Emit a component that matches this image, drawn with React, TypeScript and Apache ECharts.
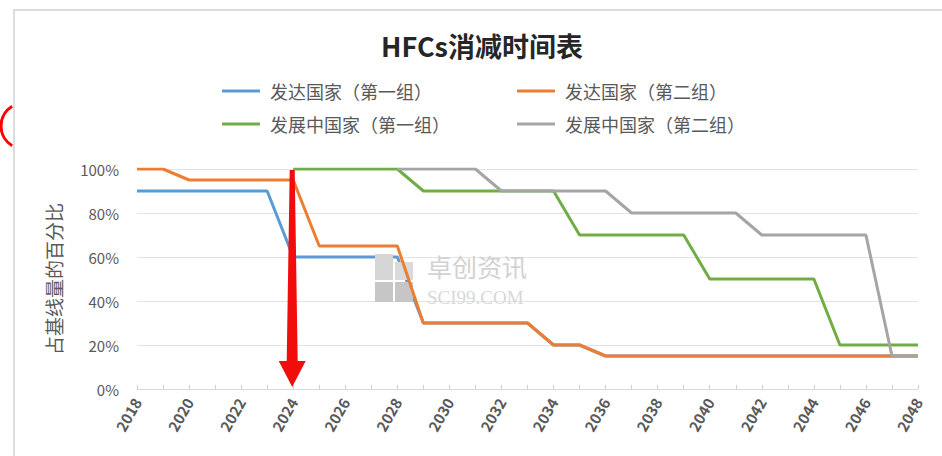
import React, { useEffect, useRef } from "react";
import * as echarts from "echarts";

const categories = [
  "2018", "2019", "2020", "2021", "2022", "2023", "2024", "2025", "2026", "2027",
  "2028", "2029", "2030", "2031", "2032", "2033", "2034", "2035", "2036", "2037",
  "2038", "2039", "2040", "2041", "2042", "2043", "2044", "2045", "2046", "2047", "2048",
];

const seriesNames = [
  "发达国家（第一组）",
  "发达国家（第二组）",
  "发展中国家（第一组）",
  "发展中国家（第二组）",
];

const developedGroup1 = [
  90, 90, 90, 90, 90, 90, 60, 60, 60, 60,
  60, 30, 30, 30, 30, 30, 20, 20, 15, 15,
  15, 15, 15, 15, 15, 15, 15, 15, 15, 15, 15,
];

const developedGroup2 = [
  100, 100, 95, 95, 95, 95, 95, 65, 65, 65,
  65, 30, 30, 30, 30, 30, 20, 20, 15, 15,
  15, 15, 15, 15, 15, 15, 15, 15, 15, 15, 15,
];

const developingGroup1 = [
  null, null, null, null, null, null, 100, 100, 100, 100,
  100, 90, 90, 90, 90, 90, 90, 70, 70, 70,
  70, 70, 50, 50, 50, 50, 50, 20, 20, 20, 20,
];

const developingGroup2 = [
  null, null, null, null, null, null, null, null, null, null,
  100, 100, 100, 100, 90, 90, 90, 90, 90, 80,
  80, 80, 80, 80, 70, 70, 70, 70, 70, 15, 15,
];

const yTicks = { min: 0, max: 100, interval: 20 };
const arrowYear = "2024";

const colors = ["#5b9bd5", "#ed7d31", "#70ad47", "#a5a5a5"];
const FONT = "'Noto Sans CJK SC', 'Noto Sans', sans-serif";

export default function App() {
  const ref = useRef<HTMLDivElement>(null);

  useEffect(() => {
    if (!ref.current) return;
    const chart = echarts.init(ref.current, undefined, { renderer: "svg" });

    const values = [developedGroup1, developedGroup2, developingGroup1, developingGroup2];
    const zs = [2, 4, 5, 6];

    const legendPos = [
      { left: 222, top: 82 },
      { left: 517, top: 82 },
      { left: 222, top: 115 },
      { left: 517, top: 115 },
    ];

    const option: any = {
      animation: false,
      backgroundColor: "#ffffff",
      title: {
        text: "HFCs消减时间表",
        left: 482,
        top: 32,
        padding: 0,
        textAlign: "center",
        textStyle: { fontSize: 27, fontWeight: "bold", color: "#262626", fontFamily: FONT },
      },
      legend: seriesNames.map((n, i) => ({
        data: [n],
        left: legendPos[i].left,
        top: legendPos[i].top,
        padding: 0,
        icon: "rect",
        itemWidth: 38,
        itemHeight: 3,
        textStyle: {
          fontSize: 18,
          color: "#595959",
          fontFamily: FONT,
          padding: [0, 0, 0, 5],
        },
      })),
      grid: { left: 137, right: 24, top: 169, bottom: 67, containLabel: false },
      xAxis: {
        type: "category",
        data: categories,
        boundaryGap: false,
        axisLine: { lineStyle: { color: "#d9d9d9", width: 1 } },
        axisTick: { show: true, interval: 0, length: 4, inside: true, lineStyle: { color: "#d0d0d0" } },
        axisLabel: {
          interval: 1,
          rotate: 60,
          margin: 10,
          fontSize: 15,
          fontWeight: "bold",
          color: "#595959",
          fontFamily: FONT,
        },
        splitLine: { show: false },
      },
      yAxis: {
        type: "value",
        min: yTicks.min,
        max: yTicks.max,
        interval: yTicks.interval,
        axisLine: { show: false },
        axisTick: { show: false },
        axisLabel: {
          formatter: "{value}%",
          fontSize: 15,
          color: "#595959",
          margin: 18,
          fontFamily: FONT,
        },
        splitLine: { lineStyle: { color: "#e3e3e3", width: 1 } },
        name: "占基线量的百分比",
        nameLocation: "middle",
        nameRotate: 90,
        nameGap: 74,
        nameTextStyle: { fontSize: 19, color: "#595959", fontFamily: FONT },
      },
      series: seriesNames.map((n, i) => ({
        name: n,
        type: "line",
        data: values[i],
        symbol: "none",
        connectNulls: false,
        z: zs[i],
        itemStyle: { color: colors[i] },
        lineStyle: { color: colors[i], width: 3 },
      })),
    };

    chart.setOption(option);

    const top = chart.convertToPixel({ xAxisIndex: 0, yAxisIndex: 0 }, [arrowYear, yTicks.max]) as number[];
    const bottom = chart.convertToPixel({ xAxisIndex: 0, yAxisIndex: 0 }, [arrowYear, yTicks.min]) as number[];
    const tipX = bottom[0] - 1;
    const topY = top[1] + 1;
    const tipY = bottom[1] - 2;
    const headY = tipY - 26;

    chart.setOption({
      graphic: [
        {
          type: "polyline",
          z: 1,
          silent: true,
          shape: { points: [[14, 460], [14, 10], [946, 10]] },
          style: { stroke: "#dcdcdc", lineWidth: 2, fill: null },
        },
        {
          type: "arc",
          z: 1,
          silent: true,
          shape: {
            cx: 24,
            cy: 126,
            r: 23,
            startAngle: (121 * Math.PI) / 180,
            endAngle: (239 * Math.PI) / 180,
            clockwise: true,
          },
          style: { stroke: "#ff0000", lineWidth: 3, fill: null },
        },
        // watermark logo
        { type: "rect", z: 3, silent: true, shape: { x: 375, y: 254, width: 18, height: 26 }, style: { fill: "#d6d6d6" } },
        { type: "rect", z: 3, silent: true, shape: { x: 395, y: 262, width: 18, height: 18 }, style: { fill: "#dadada" } },
        { type: "rect", z: 3, silent: true, shape: { x: 375, y: 282, width: 18, height: 20 }, style: { fill: "#c6c6c6" } },
        { type: "rect", z: 3, silent: true, shape: { x: 395, y: 282, width: 18, height: 20 }, style: { fill: "#c6c6c6" } },
        {
          type: "text",
          z: 3,
          silent: true,
          style: {
            text: "卓创资讯",
            x: 427,
            y: 266,
            fill: "#d2d2d2",
            font: "25px " + FONT,
            verticalAlign: "middle",
          },
        },
        {
          type: "text",
          z: 3,
          silent: true,
          style: {
            text: "SCI99.COM",
            x: 427,
            y: 297,
            fill: "#d8d8d8",
            font: "19px 'Liberation Serif', serif",
            verticalAlign: "middle",
          },
        },
        {
          type: "polygon",
          z: 10,
          silent: true,
          shape: {
            points: [
              [tipX - 2.5, topY],
              [tipX + 2.5, topY],
              [tipX + 5.5, headY],
              [tipX + 13.5, headY],
              [tipX, tipY],
              [tipX - 13.5, headY],
              [tipX - 5.5, headY],
            ],
          },
          style: { fill: "#f20d0d" },
        },
      ],
    });

    return () => chart.dispose();
  }, []);

  return (
    <div
      ref={ref}
      style={{ position: "fixed", left: 0, top: 0, width: 942, height: 456, background: "#fff" }}
    />
  );
}
